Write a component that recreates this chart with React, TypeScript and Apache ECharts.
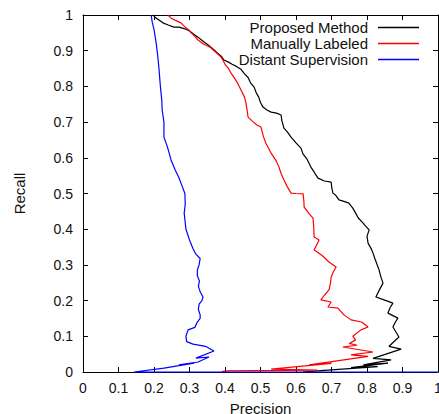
import React, { useEffect, useRef } from "react";
import * as echarts from "echarts";

const seriesNames = ["Proposed Method", "Manually Labeled", "Distant Supervision"];
const seriesColors = ["#000000", "#ff0000", "#0000ff"];
const tickValues = [0, 0.1, 0.2, 0.3, 0.4, 0.5, 0.6, 0.7, 0.8, 0.9, 1];

const proposedPrecision = [
  0.197, 0.205, 0.215, 0.225, 0.24, 0.256, 0.27, 0.285, 0.3, 0.312, 0.324, 0.34, 0.35, 0.36,
  0.372, 0.38, 0.39, 0.397, 0.41, 0.42, 0.432, 0.445, 0.455, 0.465, 0.472, 0.482, 0.488,
  0.495, 0.5, 0.507, 0.518, 0.53, 0.545, 0.558, 0.56, 0.566, 0.576, 0.586, 0.6, 0.614, 0.62,
  0.63, 0.642, 0.65, 0.656, 0.662, 0.68, 0.699, 0.701, 0.704, 0.712, 0.721, 0.735, 0.749,
  0.76, 0.768, 0.775, 0.789, 0.795, 0.806, 0.8, 0.803, 0.812, 0.817, 0.822, 0.825, 0.834,
  0.838, 0.845, 0.835, 0.825, 0.848, 0.873, 0.865, 0.859, 0.887, 0.88, 0.873, 0.89, 0.862,
  0.896, 0.817, 0.868, 0.79, 0.859, 0.755, 0.83, 0.67, 0.62,
];
const proposedRecall = [
  1.0, 0.992, 0.985, 0.978, 0.972, 0.966, 0.966, 0.962, 0.955, 0.946, 0.938, 0.925, 0.918, 0.91,
  0.9, 0.892, 0.884, 0.874, 0.868, 0.862, 0.856, 0.848, 0.835, 0.825, 0.81, 0.798, 0.782,
  0.77, 0.755, 0.742, 0.734, 0.728, 0.725, 0.72, 0.705, 0.683, 0.672, 0.658, 0.642, 0.627, 0.61,
  0.598, 0.574, 0.562, 0.552, 0.543, 0.535, 0.532, 0.515, 0.501, 0.495, 0.482, 0.478, 0.473,
  0.459, 0.445, 0.432, 0.417, 0.41, 0.398, 0.38, 0.361, 0.345, 0.333, 0.318, 0.31, 0.286,
  0.27, 0.249, 0.23, 0.21, 0.202, 0.193, 0.18, 0.165, 0.151, 0.14, 0.126, 0.098, 0.072,
  0.064, 0.038, 0.034, 0.02, 0.025, 0.012, 0.015, 0.004, 0.0,
];

const manualPrecision = [
  0.239, 0.25, 0.26, 0.276, 0.29, 0.298, 0.305, 0.315, 0.324, 0.34, 0.35, 0.36, 0.375, 0.389,
  0.395, 0.4, 0.41, 0.417, 0.425, 0.435, 0.445, 0.455, 0.459, 0.462, 0.465, 0.48, 0.49, 0.501,
  0.505, 0.508, 0.515, 0.522, 0.53, 0.545, 0.552, 0.558, 0.566, 0.575, 0.586, 0.6, 0.62, 0.622,
  0.623, 0.635, 0.648, 0.65, 0.651, 0.665, 0.651, 0.662, 0.675, 0.693, 0.713, 0.705, 0.699,
  0.697, 0.693, 0.68, 0.67, 0.699, 0.69, 0.718, 0.735, 0.755, 0.785, 0.803, 0.783, 0.76,
  0.768, 0.75, 0.772, 0.732, 0.817, 0.755, 0.803, 0.637, 0.7, 0.53, 0.66, 0.4, 0.39,
];
const manualRecall = [
  1.0, 0.99, 0.985, 0.978, 0.964, 0.958, 0.95, 0.94, 0.93, 0.918, 0.914, 0.908, 0.895, 0.882,
  0.872, 0.862, 0.85, 0.837, 0.826, 0.81, 0.79, 0.77, 0.753, 0.735, 0.714, 0.7, 0.692, 0.686,
  0.672, 0.66, 0.641, 0.628, 0.613, 0.59, 0.574, 0.556, 0.538, 0.52, 0.501, 0.5, 0.499, 0.48,
  0.462, 0.446, 0.431, 0.405, 0.378, 0.37, 0.342, 0.335, 0.325, 0.308, 0.294, 0.28, 0.266,
  0.248, 0.23, 0.215, 0.202, 0.196, 0.182, 0.179, 0.16, 0.146, 0.14, 0.126, 0.118, 0.1,
  0.09, 0.08, 0.075, 0.07, 0.056, 0.048, 0.044, 0.02, 0.024, 0.008, 0.005, 0.003, 0.0,
];

const distantPrecision = [
  0.192, 0.195, 0.2, 0.206, 0.21, 0.214, 0.218, 0.222, 0.223, 0.228, 0.228, 0.238, 0.248,
  0.26, 0.27, 0.276, 0.287, 0.288, 0.285, 0.29, 0.3, 0.31, 0.318, 0.33, 0.327, 0.322, 0.322,
  0.328, 0.325, 0.33, 0.338, 0.335, 0.327, 0.325, 0.33, 0.33, 0.322, 0.315, 0.296, 0.29,
  0.292, 0.31, 0.345, 0.369, 0.318, 0.355, 0.324, 0.27, 0.313, 0.228, 0.144, 1.0,
];
const distantRecall = [
  1.0, 0.98, 0.96, 0.922, 0.89, 0.85, 0.8, 0.76, 0.734, 0.7, 0.658, 0.63, 0.594,
  0.565, 0.545, 0.529, 0.5, 0.47, 0.445, 0.4, 0.37, 0.345, 0.33, 0.318, 0.3, 0.285, 0.27,
  0.255, 0.24, 0.225, 0.21, 0.2, 0.19, 0.175, 0.16, 0.15, 0.14, 0.125, 0.118, 0.1,
  0.085, 0.078, 0.072, 0.059, 0.039, 0.042, 0.028, 0.02, 0.025, 0.011, 0.0, 0.0,
];

const precisions = [proposedPrecision, manualPrecision, distantPrecision];
const recalls = [proposedRecall, manualRecall, distantRecall];

const FONT = "'Liberation Sans', Arial, Helvetica, sans-serif";

export default function App() {
  const ref = useRef<HTMLDivElement>(null);
  useEffect(() => {
    if (!ref.current) return;
    const chart = echarts.init(ref.current, undefined, { renderer: "svg" });
    const axisCommon = {
      type: "value" as const,
      min: 0,
      max: 1,
      interval: 0.1,
      splitLine: { show: false },
      axisLine: { show: true, onZero: false, lineStyle: { color: "#000", width: 1 } },
      axisTick: { show: true, inside: true, length: 5, lineStyle: { color: "#000", width: 1 } },
    };
    const labelFmt = (v: number) => String(tickValues.find((t) => Math.abs(t - v) < 1e-6) ?? v);
    const rows = [20, 36, 52];
    chart.setOption({
      animation: false,
      backgroundColor: "#fff",
      grid: {
        left: 83,
        right: 1,
        top: 15,
        bottom: 42,
        show: false,
        containLabel: false,
        outerBoundsMode: "none",
      },
      legend: seriesNames.map((name, i) => ({
        data: [{ name, itemStyle: { color: seriesColors[i] } }],
        orient: "vertical",
        align: "right",
        right: 20,
        top: rows[i],
        padding: 0,
        icon: "rect",
        itemWidth: 41,
        itemHeight: 1.4,
        selectedMode: false,
        textStyle: {
          fontFamily: FONT,
          fontSize: 15,
          lineHeight: 14,
          color: "#111",
          padding: [0, 5, 0, 0],
        },
      })),
      xAxis: [
        {
          ...axisCommon,
          position: "bottom",
          name: "Precision",
          nameLocation: "middle",
          nameGap: 29,
          nameTextStyle: { fontFamily: FONT, fontSize: 15, color: "#111" },
          axisLabel: { fontFamily: FONT, fontSize: 14, color: "#111", margin: 9, formatter: labelFmt },
        },
        { ...axisCommon, position: "top", axisLabel: { show: false } },
      ],
      yAxis: [
        {
          ...axisCommon,
          position: "left",
          name: "Recall",
          nameLocation: "middle",
          nameGap: 56,
          nameTextStyle: { fontFamily: FONT, fontSize: 15, color: "#111" },
          axisLabel: { fontFamily: FONT, fontSize: 14, color: "#111", margin: 10, formatter: labelFmt },
        },
        { ...axisCommon, position: "right", axisLabel: { show: false } },
      ],
      series: seriesNames.map((name, i) => ({
        name,
        type: "line",
        xAxisIndex: 0,
        yAxisIndex: 0,
        symbol: "none",
        showSymbol: false,
        clip: false,
        z: 3 + i,
        color: seriesColors[i],
        lineStyle: { color: seriesColors[i], width: 1.2 },
        itemStyle: { color: seriesColors[i] },
        data: precisions[i].map((p, j) => [p, recalls[i][j]]),
      })),
    });
    return () => chart.dispose();
  }, []);
  return (
    <div
      ref={ref}
      style={{ position: "fixed", left: 0, top: 0, width: 439, height: 414 }}
    />
  );
}
